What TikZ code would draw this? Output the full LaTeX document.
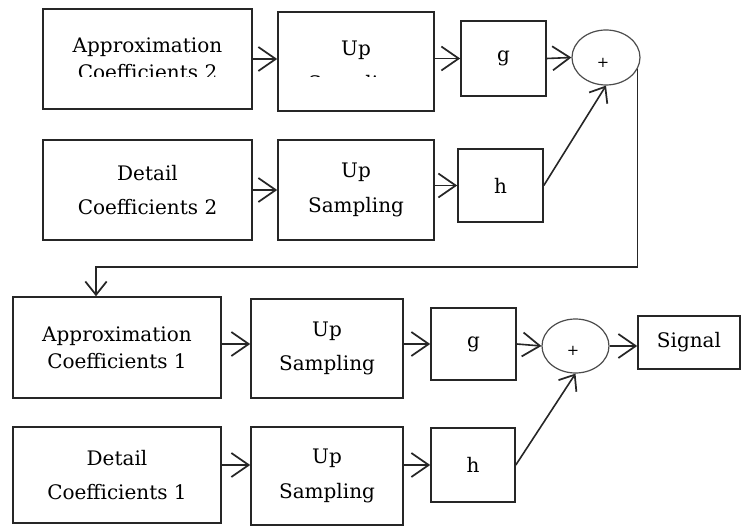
\documentclass[tikz,border=0pt]{standalone}
\usepackage{fontspec}
\setmainfont{DejaVu Serif}
\usetikzlibrary{shapes.geometric,arrows.meta}
\begin{document}
\begin{tikzpicture}[x=0.75pt,y=-0.75pt,line width=1.2pt,
        blk/.style={draw=black!85,rectangle,inner sep=0pt,align=center,font=\fontsize{15}{26}\selectfont},
        tight/.style={font=\fontsize{15}{20}\selectfont},
        sumnode/.style={draw=black!70,ellipse,line width=0.9pt,inner sep=0pt},
        plus/.style={inner sep=0pt,font=\fontsize{11}{12}\selectfont},
        lnk/.style={draw=black!85,-{Straight Barb[length=13pt,width=18pt,line width=1.3pt]}},
        feed/.style={draw=black!85,-{Straight Barb[length=10pt,width=16pt,line width=1.3pt]}}]
        \useasboundingbox (0,0) rectangle (742,527);

        \node at (147.5,59)[blk,minimum width=156.75pt,minimum height=75pt] (ac2) {};
        \node at (356,61.5)[blk,minimum width=117pt,minimum height=74.25pt] (up1) {};
        \begin{scope}
            \clip (40,0) rectangle (440,77);
            \node at (147.5,59)[blk,tight,draw=none] (ac2txt) {Approximation\\Coefficients 2};
            \node at (356,68)[blk,draw=none] (up1txt) {Up\\Sampling};
        \end{scope}
        \node at (503.5,58.5)[blk,minimum width=63.75pt,minimum height=56.25pt] (g1) {g};
        \node at (606,57.5)[sumnode,minimum width=51pt,minimum height=41.25pt] (sum1) {};
        \node at (603,63)[plus] (plus1) {+};

        \node at (147.5,190)[blk,minimum width=156.75pt,minimum height=75pt] (dc2) {Detail\\Coefficients 2};
        \node at (356,190)[blk,minimum width=117pt,minimum height=75pt] (up2) {Up\\Sampling};
        \node at (500.5,185.5)[blk,minimum width=63.75pt,minimum height=54.75pt] (h2) {h};

        \node at (117,347.5)[blk,tight,minimum width=156pt,minimum height=75.75pt] (ac1) {Approximation\\Coefficients 1};
        \node at (327,348.5)[blk,minimum width=114pt,minimum height=74.25pt] (up3) {Up\\Sampling};
        \node at (473.5,344)[blk,minimum width=63.75pt,minimum height=54pt] (g2) {g};
        \node at (575.5,346)[sumnode,minimum width=50.25pt,minimum height=40.5pt] (sum2) {};
        \node at (573,351)[plus] (plus2) {+};
        \node at (689,342.5)[blk,minimum width=76.5pt,minimum height=39.75pt] (sig) {Signal};

        \node at (117,475)[blk,minimum width=156pt,minimum height=72pt] (dc1) {Detail\\Coefficients 1};
        \node at (327,476)[blk,minimum width=114pt,minimum height=73.5pt] (up4) {Up\\Sampling};
        \node at (473,465)[blk,minimum width=63pt,minimum height=55.5pt] (h4) {h};

        \coordinate (fbturn) at (96,267);

        \draw[lnk] (ac2.east) -- (ac2.east -| up1.west);
        \draw[lnk] (up1.east |- g1.west) -- (g1.west);
        \draw[lnk] (g1.east) -- (sum1.west);
        \draw[lnk] (dc2.east) -- (up2.west);
        \draw[lnk] (up2.east |- h2.west) -- (h2.west);
        \draw[feed] (h2.east) -- (sum1.south);
        \draw[feed] (sum1.-20) |- (fbturn) -- (fbturn |- ac1.north);

        \draw[lnk] (ac1.east |- g2.west) -- (up3.west |- g2.west);
        \draw[lnk] (up3.east |- g2.west) -- (g2.west);
        \draw[lnk] (g2.east) -- (sum2.west);
        \draw[lnk] (sum2.east) -- (sum2.east -| sig.west);
        \draw[lnk] (dc1.east |- h4.west) -- (up4.west |- h4.west);
        \draw[lnk] (up4.east |- h4.west) -- (h4.west);
        \draw[feed] (h4.east) -- (sum2.south);
    \end{tikzpicture}
\end{document}
